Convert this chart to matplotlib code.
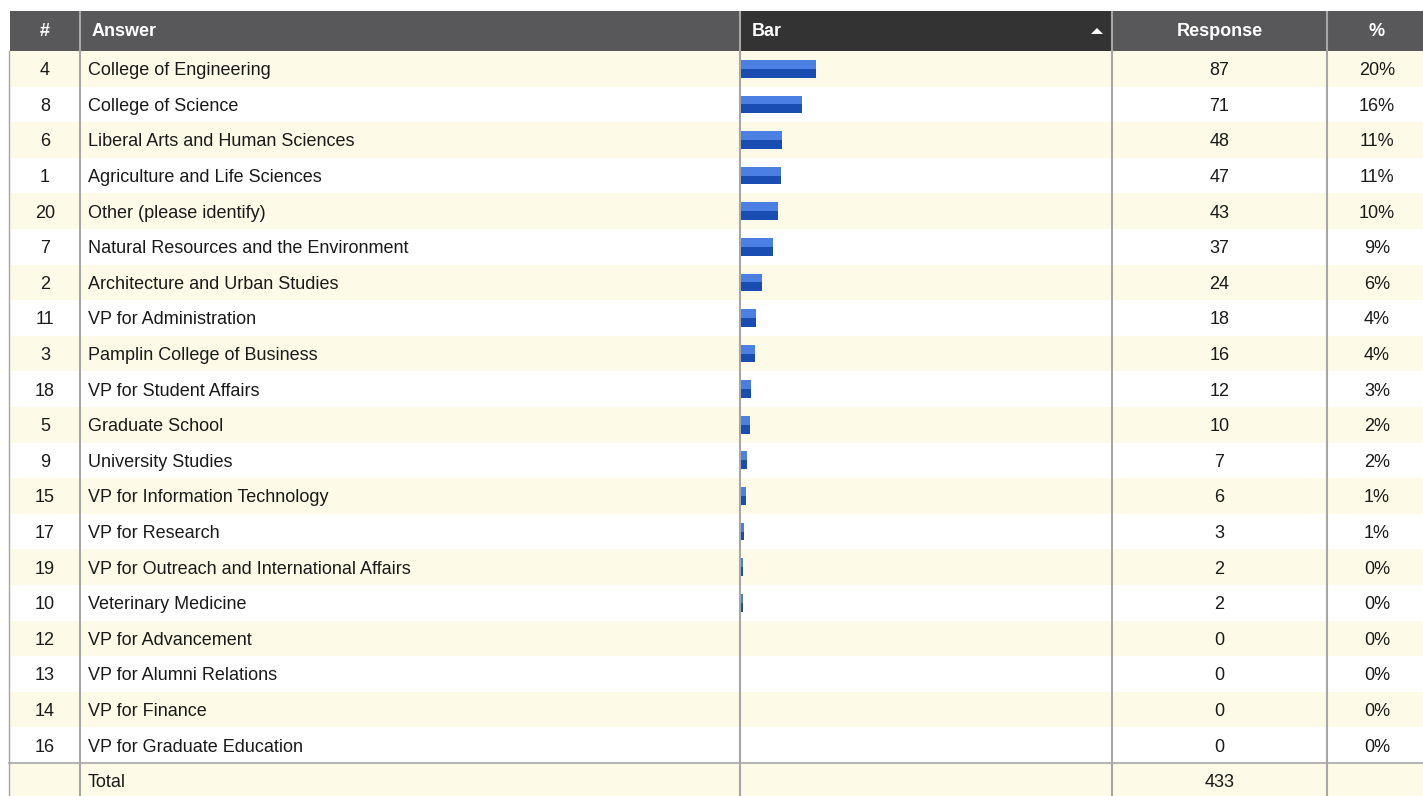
import matplotlib.pyplot as plt
from matplotlib.patches import Rectangle, Polygon

# ---- data ----
ids = ["4", "8", "6", "1", "20", "7", "2", "11", "3", "18",
       "5", "9", "15", "17", "19", "10", "12", "13", "14", "16"]
answers = [
    "College of Engineering",
    "College of Science",
    "Liberal Arts and Human Sciences",
    "Agriculture and Life Sciences",
    "Other (please identify)",
    "Natural Resources and the Environment",
    "Architecture and Urban Studies",
    "VP for Administration",
    "Pamplin College of Business",
    "VP for Student Affairs",
    "Graduate School",
    "University Studies",
    "VP for Information Technology",
    "VP for Research",
    "VP for Outreach and International Affairs",
    "Veterinary Medicine",
    "VP for Advancement",
    "VP for Alumni Relations",
    "VP for Finance",
    "VP for Graduate Education",
]
responses = [87, 71, 48, 47, 43, 37, 24, 18, 16, 12, 10, 7, 6, 3, 2, 2, 0, 0, 0, 0]
pct_labels = ["20%", "16%", "11%", "11%", "10%", "9%", "6%", "4%", "4%", "3%",
              "2%", "2%", "1%", "1%", "0%", "0%", "0%", "0%", "0%", "0%"]
total = 433
headers = ["#", "Answer", "Bar", "Response", "%"]

# ---- layout (pixels) ----
W, H = 1423, 796
LEFT = 9
HEAD_TOP, HEAD_BOT = 11, 51
ROW_H = 35.6
COLS = [LEFT, 80, 740, 1112, 1327, W]
TXT_DY = 1.8   # nudge text down to sit like the reference

CREAM = "#fdfbe7"
HEAD_BG = "#58585a"
HEAD_SORT = "#333333"
GRID = "#a6a6a6"
LIGHT_BLUE = "#4b7fe2"
DARK_BLUE = "#1a4db1"

plt.rcParams["font.family"] = ["Liberation Sans", "DejaVu Sans"]

fig = plt.figure(figsize=(W / 100, H / 100), dpi=100)
ax = fig.add_axes([0, 0, 1, 1])
ax.set_xlim(0, W)
ax.set_ylim(H, 0)
ax.axis("off")

n = len(answers)
body_bot = HEAD_BOT + n * ROW_H


def row_center(i):
    return HEAD_BOT + (i + 0.5) * ROW_H


# row backgrounds
for i in range(n + 1):
    if i % 2 == 0:
        ax.add_patch(Rectangle((LEFT, HEAD_BOT + i * ROW_H), W - LEFT, ROW_H,
                               facecolor=CREAM, edgecolor="none", zorder=0))

# header
ax.add_patch(Rectangle((LEFT + 1, HEAD_TOP), W - LEFT, HEAD_BOT - HEAD_TOP,
                       facecolor=HEAD_BG, edgecolor="none", zorder=1))
ax.add_patch(Rectangle((COLS[2], HEAD_TOP), COLS[3] - COLS[2], HEAD_BOT - HEAD_TOP,
                       facecolor=HEAD_SORT, edgecolor="none", zorder=1))
head_y = (HEAD_TOP + HEAD_BOT) / 2 + 1
hkw = dict(color="white", fontsize=13, fontweight="bold", va="center", zorder=3)
ax.text((COLS[0] + COLS[1]) / 2 + 0.5, head_y, headers[0], ha="center", **hkw)
ax.text(92, head_y, headers[1], ha="left", **hkw)
ax.text(752, head_y, headers[2], ha="left", **hkw)
ax.text((COLS[3] + COLS[4]) / 2, head_y, headers[3], ha="center", **hkw)
ax.text((COLS[4] + COLS[5]) / 2 + 2, head_y, headers[4], ha="center", **hkw)
ax.add_patch(Polygon([(1091, 34), (1103, 34), (1097, 28)], closed=True,
                     facecolor="white", edgecolor="none", zorder=3))

# body text
tkw = dict(color="#1a1a1a", fontsize=13, va="center", zorder=3)
for i in range(n):
    y = row_center(i) + TXT_DY
    ax.text((COLS[0] + COLS[1]) / 2 + 0.5, y, ids[i], ha="center", **tkw)
    ax.text(88, y, answers[i], ha="left", **tkw)
    ax.text((COLS[3] + COLS[4]) / 2, y, str(responses[i]), ha="center", **tkw)
    ax.text((COLS[4] + COLS[5]) / 2 + 2, y, pct_labels[i], ha="center", **tkw)

# total row
ty = row_center(n) + TXT_DY
ax.text(88, ty, "Total", ha="left", **tkw)
ax.text((COLS[3] + COLS[4]) / 2, ty, str(total), ha="center", **tkw)

# grid lines
for x in COLS[1:5]:
    ax.plot([x, x], [HEAD_TOP, H], color=GRID, lw=1.5, zorder=2,
            solid_capstyle="butt")
ax.plot([LEFT, LEFT], [HEAD_BOT, H], color=GRID, lw=1.0, zorder=2)
ax.plot([LEFT, W], [body_bot, body_bot], color=GRID, lw=1.2, zorder=2)

# bar column
bx0, bx1 = COLS[2] + 1, COLS[3]
ax_bar = fig.add_axes([bx0 / W, 1 - body_bot / H, (bx1 - bx0) / W,
                       (body_bot - HEAD_BOT) / H])
ax_bar.patch.set_alpha(0)
ax_bar.axis("off")
pct = [r / total * 100 for r in responses]
rows = list(range(n))
ax_bar.barh([r - 0.125 for r in rows], pct, height=0.25, left=0,
            color=LIGHT_BLUE, edgecolor="none")
ax_bar.barh([r + 0.125 for r in rows], pct, height=0.25, left=0,
            color=DARK_BLUE, edgecolor="none")
ax_bar.set_xlim(0, 100)
ax_bar.set_ylim(n - 0.5, -0.5)

fig.savefig("out.png", dpi=100)
